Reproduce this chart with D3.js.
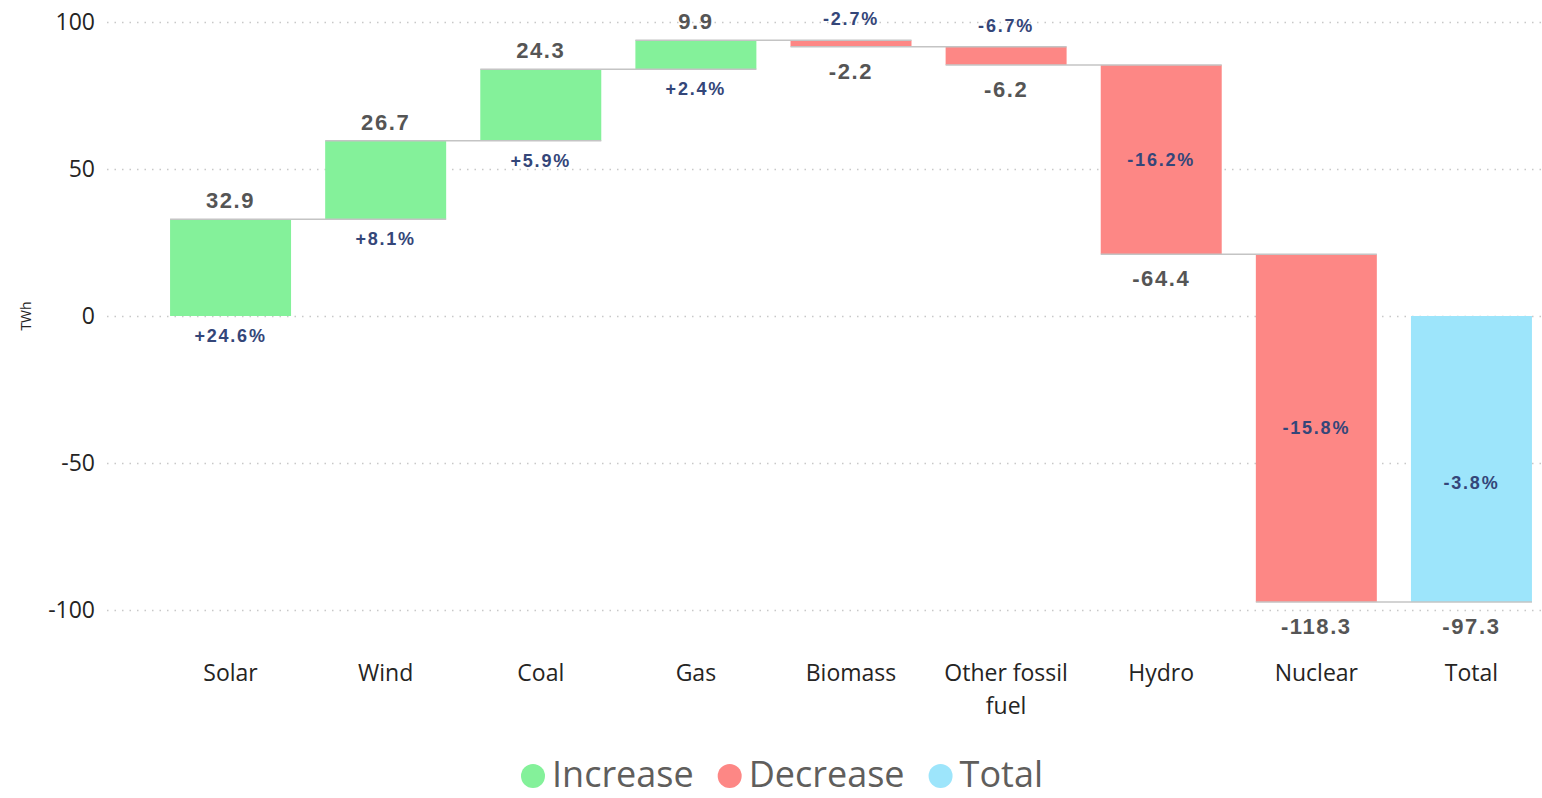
<!DOCTYPE html>
<html>
<head>
<meta charset="utf-8">
<script src="https://cdn.jsdelivr.net/npm/d3@7"></script>
<style>
  body { margin: 0; background: #fff; }
  .tick text { font-family: 'Segoe UI', 'Open Sans', sans-serif; font-size: 23px; fill: #252423; }
  .cat-label { font-family: 'Segoe UI', 'Open Sans', sans-serif; font-size: 23px; fill: #252423; }
  .val-label { font-family: 'Liberation Sans', Arial, sans-serif; font-weight: bold; font-size: 22px; fill: #555555; letter-spacing: 1.6px; }
  .pct-label { font-family: 'Liberation Sans', Arial, sans-serif; font-weight: bold; font-size: 18px; fill: #344679; letter-spacing: 1.8px; }
  .legend text { font-family: 'Segoe UI', 'Open Sans', sans-serif; font-size: 36px; fill: #605e5c; }
</style>
</head>
<body>
<script>
var categories = ['Solar', 'Wind', 'Coal', 'Gas', 'Biomass', 'Other fossil fuel', 'Hydro', 'Nuclear', 'Total']
var changes = [32.9, 26.7, 24.3, 9.9, -2.2, -6.2, -64.4, -118.3, -97.3]
var pctLabels = ['+24.6%', '+8.1%', '+5.9%', '+2.4%', '-2.7%', '-6.7%', '-16.2%', '-15.8%', '-3.8%']
var yTicks = [-100, -50, 0, 50, 100]
var legendItems = ['Increase', 'Decrease', 'Total']

var colors = { Increase: '#84f19a', Decrease: '#fd8785', Total: '#9de5fb' }

var w = 1542
var h = 798

// running totals, last category is the total bar from zero
var rows = []
var run = 0
categories.forEach(function (c, i) {
  var isTotal = i === categories.length - 1
  var start = isTotal ? 0 : run
  var end = isTotal ? changes[i] : run + changes[i]
  run = end
  rows.push({
    cat: c,
    value: changes[i],
    pct: pctLabels[i],
    start: start,
    end: end,
    kind: isTotal ? 'Total' : (changes[i] >= 0 ? 'Increase' : 'Decrease')
  })
})

var svg = d3.select('body')
            .append('svg')
            .attr('width', w)
            .attr('height', h)

var x = d3.scaleBand()
        .domain(categories)
        .range([153, 1549])
        .paddingInner(0.22)
        .paddingOuter(0.11)

var y = d3.scaleLinear()
        .domain([-100, 100])
        .range([610, 22])

// Y AXIS WITH DOTTED GRID
var yAxis = svg.append('g')
  .attr('transform', 'translate(107,0)')
  .call(d3.axisLeft(y).tickValues(yTicks).tickSize(-(w - 107)).tickPadding(12)
    .tickFormat(function (d) { return String(d) }))

yAxis.select('.domain').remove()
yAxis.selectAll('.tick line')
  .attr('stroke', '#c8c8c8')
  .attr('stroke-width', 1.5)
  .attr('stroke-dasharray', '1.5,6')

svg.append('text')
  .attr('transform', 'translate(31,316) rotate(-90)')
  .attr('text-anchor', 'middle')
  .style('font-family', "'Segoe UI', 'Open Sans', sans-serif")
  .style('font-size', '14px')
  .style('fill', '#252423')
  .text('TWh')

// BARS
svg.selectAll('.bar')
  .data(rows)
  .enter()
    .append('rect')
    .classed('bar', true)
    .attr('x', function (d) { return x(d.cat) })
    .attr('y', function (d) { return y(Math.max(d.start, d.end)) })
    .attr('width', x.bandwidth())
    .attr('height', function (d) { return Math.abs(y(d.start) - y(d.end)) })
    .attr('fill', function (d) { return colors[d.kind] })

// CONNECTORS
svg.selectAll('.connector')
  .data(rows.slice(0, -1))
  .enter()
    .append('line')
    .attr('x1', function (d) { return x(d.cat) })
    .attr('x2', function (d, i) { return x(categories[i + 1]) + x.bandwidth() })
    .attr('y1', function (d) { return y(d.end) })
    .attr('y2', function (d) { return y(d.end) })
    .attr('stroke', '#c4c4c4')
    .attr('stroke-width', 1.5)

var cx = function (d) { return x(d.cat) + x.bandwidth() / 2 }
var inside = function (d) { return Math.abs(y(d.start) - y(d.end)) > 100 }

// VALUE LABELS: above the bar for increases, below for decreases / total
svg.selectAll('.val-label')
  .data(rows)
  .enter()
    .append('text')
    .classed('val-label', true)
    .attr('text-anchor', 'middle')
    .attr('x', cx)
    .attr('y', function (d) {
      if (d.kind === 'Increase') return y(d.end) - 11
      return y(Math.min(d.start, d.end)) + 32
    })
    .text(function (d) { return d.value.toFixed(1) })

// PERCENT LABELS
svg.selectAll('.pct-label')
  .data(rows)
  .enter()
    .append('text')
    .classed('pct-label', true)
    .attr('text-anchor', 'middle')
    .attr('x', cx)
    .attr('y', function (d) {
      if (d.kind === 'Total') return y(d.end * 0.58) + 7 // sits below the middle, as in the source
      if (inside(d)) return (y(d.start) + y(d.end)) / 2 + 6
      if (d.kind === 'Increase') return y(d.start) + 26
      return y(d.start) - 15
    })
    .text(function (d) { return d.pct })

// CATEGORY LABELS
var cats = svg.selectAll('.cat-label')
  .data(categories)
  .enter()
    .append('text')
    .classed('cat-label', true)
    .attr('text-anchor', 'middle')
    .attr('x', function (d) { return x(d) + x.bandwidth() / 2 })
    .attr('y', 681)

cats.each(function (d) {
  var el = d3.select(this)
  var words = d.split(' ')
  var line = []
  var tspan = el.append('tspan').attr('x', el.attr('x')).attr('dy', 0)
  words.forEach(function (word) {
    line.push(word)
    tspan.text(line.join(' '))
    if (tspan.node().getComputedTextLength() > 145 && line.length > 1) {
      line.pop()
      tspan.text(line.join(' '))
      line = [word]
      tspan = el.append('tspan').attr('x', el.attr('x')).attr('dy', 33).text(word)
    }
  })
})

// LEGEND
var legend = svg.append('g').classed('legend', true)
var lx = 533
legendItems.forEach(function (name) {
  legend.append('circle')
    .attr('cx', lx)
    .attr('cy', 776)
    .attr('r', 12)
    .attr('fill', colors[name])
  var t = legend.append('text')
    .attr('x', lx + 19)
    .attr('y', 787)
    .text(name)
  lx = lx + 19 + t.node().getComputedTextLength() + 36
})
</script>
</body>
</html>
